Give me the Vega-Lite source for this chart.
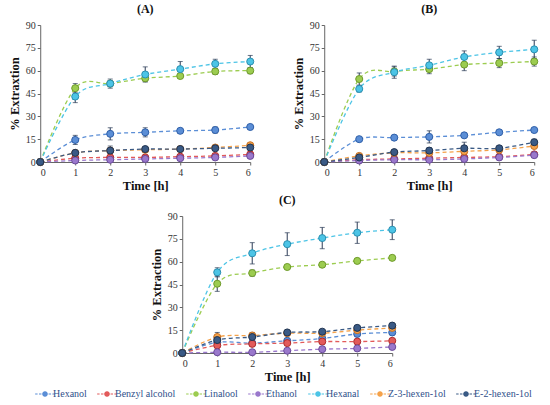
{
  "$schema": "https://vega.github.io/schema/vega-lite/v6.json",
  "padding": {"left": 8, "top": 3, "right": 5, "bottom": 2},
  "data": {
    "values": [
      {"p":"A","c":"Hexanol","t":0,"v":0,"e":0},{"p":"A","c":"Hexanol","t":1,"v":14.5,"e":3},{"p":"A","c":"Hexanol","t":2,"v":18.5,"e":4},{"p":"A","c":"Hexanol","t":3,"v":19.5,"e":3},{"p":"A","c":"Hexanol","t":4,"v":20.5,"e":1.5},{"p":"A","c":"Hexanol","t":5,"v":21,"e":2},{"p":"A","c":"Hexanol","t":6,"v":23,"e":1},
      {"p":"A","c":"Benzyl alcohol","t":0,"v":0,"e":0},{"p":"A","c":"Benzyl alcohol","t":1,"v":2.5,"e":0},{"p":"A","c":"Benzyl alcohol","t":2,"v":3,"e":0},{"p":"A","c":"Benzyl alcohol","t":3,"v":3,"e":0},{"p":"A","c":"Benzyl alcohol","t":4,"v":3.5,"e":0},{"p":"A","c":"Benzyl alcohol","t":5,"v":4,"e":0},{"p":"A","c":"Benzyl alcohol","t":6,"v":5,"e":0},
      {"p":"A","c":"Linalool","t":0,"v":0,"e":0},{"p":"A","c":"Linalool","t":1,"v":48.5,"e":3},{"p":"A","c":"Linalool","t":2,"v":51.5,"e":2},{"p":"A","c":"Linalool","t":3,"v":55,"e":2},{"p":"A","c":"Linalool","t":4,"v":56.5,"e":1.5},{"p":"A","c":"Linalool","t":5,"v":59.5,"e":2},{"p":"A","c":"Linalool","t":6,"v":60,"e":2},
      {"p":"A","c":"Ethanol","t":0,"v":0,"e":0},{"p":"A","c":"Ethanol","t":1,"v":1,"e":0},{"p":"A","c":"Ethanol","t":2,"v":1.5,"e":0},{"p":"A","c":"Ethanol","t":3,"v":2,"e":0},{"p":"A","c":"Ethanol","t":4,"v":2.5,"e":0},{"p":"A","c":"Ethanol","t":5,"v":3,"e":0},{"p":"A","c":"Ethanol","t":6,"v":4,"e":0},
      {"p":"A","c":"Hexanal","t":0,"v":0,"e":0},{"p":"A","c":"Hexanal","t":1,"v":43,"e":4},{"p":"A","c":"Hexanal","t":2,"v":51.5,"e":3},{"p":"A","c":"Hexanal","t":3,"v":57.5,"e":5},{"p":"A","c":"Hexanal","t":4,"v":61,"e":5},{"p":"A","c":"Hexanal","t":5,"v":64.5,"e":3},{"p":"A","c":"Hexanal","t":6,"v":66,"e":4},
      {"p":"A","c":"Z-3-hexen-1ol","t":0,"v":0,"e":0},{"p":"A","c":"Z-3-hexen-1ol","t":1,"v":6,"e":0},{"p":"A","c":"Z-3-hexen-1ol","t":2,"v":7.5,"e":0},{"p":"A","c":"Z-3-hexen-1ol","t":3,"v":8,"e":0},{"p":"A","c":"Z-3-hexen-1ol","t":4,"v":8.5,"e":0},{"p":"A","c":"Z-3-hexen-1ol","t":5,"v":9.5,"e":0},{"p":"A","c":"Z-3-hexen-1ol","t":6,"v":11,"e":0},
      {"p":"A","c":"E-2-hexen-1ol","t":0,"v":0,"e":0},{"p":"A","c":"E-2-hexen-1ol","t":1,"v":6,"e":1},{"p":"A","c":"E-2-hexen-1ol","t":2,"v":7.5,"e":3},{"p":"A","c":"E-2-hexen-1ol","t":3,"v":8.5,"e":1},{"p":"A","c":"E-2-hexen-1ol","t":4,"v":8.5,"e":1},{"p":"A","c":"E-2-hexen-1ol","t":5,"v":9,"e":1},{"p":"A","c":"E-2-hexen-1ol","t":6,"v":9.5,"e":1},

      {"p":"B","c":"Hexanol","t":0,"v":0,"e":0},{"p":"B","c":"Hexanol","t":1,"v":15,"e":1},{"p":"B","c":"Hexanol","t":2,"v":16,"e":1},{"p":"B","c":"Hexanol","t":3,"v":16.5,"e":4},{"p":"B","c":"Hexanol","t":4,"v":17.5,"e":1},{"p":"B","c":"Hexanol","t":5,"v":19.5,"e":1},{"p":"B","c":"Hexanol","t":6,"v":21,"e":1},
      {"p":"B","c":"Benzyl alcohol","t":0,"v":0,"e":0},{"p":"B","c":"Benzyl alcohol","t":1,"v":1.5,"e":0},{"p":"B","c":"Benzyl alcohol","t":2,"v":2,"e":0},{"p":"B","c":"Benzyl alcohol","t":3,"v":2.5,"e":0},{"p":"B","c":"Benzyl alcohol","t":4,"v":3,"e":0},{"p":"B","c":"Benzyl alcohol","t":5,"v":3.5,"e":0},{"p":"B","c":"Benzyl alcohol","t":6,"v":5,"e":0},
      {"p":"B","c":"Linalool","t":0,"v":0,"e":0},{"p":"B","c":"Linalool","t":1,"v":54.5,"e":4},{"p":"B","c":"Linalool","t":2,"v":59.5,"e":3},{"p":"B","c":"Linalool","t":3,"v":61,"e":3},{"p":"B","c":"Linalool","t":4,"v":64,"e":4},{"p":"B","c":"Linalool","t":5,"v":65,"e":3},{"p":"B","c":"Linalool","t":6,"v":66,"e":3},
      {"p":"B","c":"Ethanol","t":0,"v":0,"e":0},{"p":"B","c":"Ethanol","t":1,"v":1,"e":0},{"p":"B","c":"Ethanol","t":2,"v":1.5,"e":0},{"p":"B","c":"Ethanol","t":3,"v":1.5,"e":0},{"p":"B","c":"Ethanol","t":4,"v":2,"e":0},{"p":"B","c":"Ethanol","t":5,"v":3,"e":0},{"p":"B","c":"Ethanol","t":6,"v":4.5,"e":0},
      {"p":"B","c":"Hexanal","t":0,"v":0,"e":0},{"p":"B","c":"Hexanal","t":1,"v":48,"e":2},{"p":"B","c":"Hexanal","t":2,"v":59,"e":4},{"p":"B","c":"Hexanal","t":3,"v":63.5,"e":4},{"p":"B","c":"Hexanal","t":4,"v":69,"e":4},{"p":"B","c":"Hexanal","t":5,"v":72,"e":4},{"p":"B","c":"Hexanal","t":6,"v":74,"e":6},
      {"p":"B","c":"Z-3-hexen-1ol","t":0,"v":0,"e":0},{"p":"B","c":"Z-3-hexen-1ol","t":1,"v":4,"e":0},{"p":"B","c":"Z-3-hexen-1ol","t":2,"v":6,"e":0},{"p":"B","c":"Z-3-hexen-1ol","t":3,"v":6,"e":0},{"p":"B","c":"Z-3-hexen-1ol","t":4,"v":7,"e":0},{"p":"B","c":"Z-3-hexen-1ol","t":5,"v":8,"e":0},{"p":"B","c":"Z-3-hexen-1ol","t":6,"v":10.5,"e":0},
      {"p":"B","c":"E-2-hexen-1ol","t":0,"v":0,"e":0},{"p":"B","c":"E-2-hexen-1ol","t":1,"v":3,"e":1},{"p":"B","c":"E-2-hexen-1ol","t":2,"v":6.5,"e":1},{"p":"B","c":"E-2-hexen-1ol","t":3,"v":7.5,"e":2},{"p":"B","c":"E-2-hexen-1ol","t":4,"v":9,"e":4},{"p":"B","c":"E-2-hexen-1ol","t":5,"v":9,"e":1},{"p":"B","c":"E-2-hexen-1ol","t":6,"v":13,"e":2},

      {"p":"C","c":"Hexanol","t":0,"v":0,"e":0},{"p":"C","c":"Hexanol","t":1,"v":7,"e":0},{"p":"C","c":"Hexanol","t":2,"v":6.5,"e":0},{"p":"C","c":"Hexanol","t":3,"v":8,"e":0},{"p":"C","c":"Hexanol","t":4,"v":9.5,"e":0},{"p":"C","c":"Hexanol","t":5,"v":12.5,"e":0},{"p":"C","c":"Hexanol","t":6,"v":13.5,"e":0},
      {"p":"C","c":"Benzyl alcohol","t":0,"v":0,"e":0},{"p":"C","c":"Benzyl alcohol","t":1,"v":5,"e":0},{"p":"C","c":"Benzyl alcohol","t":2,"v":6,"e":0},{"p":"C","c":"Benzyl alcohol","t":3,"v":6.5,"e":0},{"p":"C","c":"Benzyl alcohol","t":4,"v":7.5,"e":0},{"p":"C","c":"Benzyl alcohol","t":5,"v":7.5,"e":0},{"p":"C","c":"Benzyl alcohol","t":6,"v":8,"e":0},
      {"p":"C","c":"Linalool","t":0,"v":0,"e":0},{"p":"C","c":"Linalool","t":1,"v":45.5,"e":5},{"p":"C","c":"Linalool","t":2,"v":52.5,"e":2},{"p":"C","c":"Linalool","t":3,"v":56.5,"e":1},{"p":"C","c":"Linalool","t":4,"v":58,"e":1},{"p":"C","c":"Linalool","t":5,"v":60.5,"e":1},{"p":"C","c":"Linalool","t":6,"v":62.5,"e":1},
      {"p":"C","c":"Ethanol","t":0,"v":0,"e":0},{"p":"C","c":"Ethanol","t":1,"v":0.5,"e":0},{"p":"C","c":"Ethanol","t":2,"v":0.5,"e":0},{"p":"C","c":"Ethanol","t":3,"v":1.5,"e":0},{"p":"C","c":"Ethanol","t":4,"v":2.5,"e":0},{"p":"C","c":"Ethanol","t":5,"v":3,"e":0},{"p":"C","c":"Ethanol","t":6,"v":4,"e":0},
      {"p":"C","c":"Hexanal","t":0,"v":0,"e":0},{"p":"C","c":"Hexanal","t":1,"v":53,"e":3},{"p":"C","c":"Hexanal","t":2,"v":65.5,"e":7},{"p":"C","c":"Hexanal","t":3,"v":71.5,"e":7.5},{"p":"C","c":"Hexanal","t":4,"v":75.5,"e":7},{"p":"C","c":"Hexanal","t":5,"v":79,"e":7},{"p":"C","c":"Hexanal","t":6,"v":81,"e":6.5},
      {"p":"C","c":"Z-3-hexen-1ol","t":0,"v":0,"e":0},{"p":"C","c":"Z-3-hexen-1ol","t":1,"v":10.5,"e":0},{"p":"C","c":"Z-3-hexen-1ol","t":2,"v":11.5,"e":0},{"p":"C","c":"Z-3-hexen-1ol","t":3,"v":13,"e":0},{"p":"C","c":"Z-3-hexen-1ol","t":4,"v":13,"e":0},{"p":"C","c":"Z-3-hexen-1ol","t":5,"v":15,"e":0},{"p":"C","c":"Z-3-hexen-1ol","t":6,"v":16.5,"e":0},
      {"p":"C","c":"E-2-hexen-1ol","t":0,"v":0,"e":0},{"p":"C","c":"E-2-hexen-1ol","t":1,"v":8.5,"e":5},{"p":"C","c":"E-2-hexen-1ol","t":2,"v":10.5,"e":3},{"p":"C","c":"E-2-hexen-1ol","t":3,"v":13.5,"e":1},{"p":"C","c":"E-2-hexen-1ol","t":4,"v":14,"e":1},{"p":"C","c":"E-2-hexen-1ol","t":5,"v":16.5,"e":1},{"p":"C","c":"E-2-hexen-1ol","t":6,"v":18,"e":1}
    ]
  },
  "vconcat": [
    {
      "hconcat": [
        {
          "title": "(A)",
          "width": 210,
          "height": 137,
          "transform": [{"filter": "datum.p == 'A'"}],
          "encoding": {
            "x": {"field": "t", "type": "quantitative", "title": "Time [h]", "scale": {"domain": [0, 6]}, "axis": {"values": [0, 1, 2, 3, 4, 5, 6]}},
            "y": {"field": "v", "type": "quantitative", "title": "% Extraxtion", "scale": {"domain": [0, 90], "nice": false}, "axis": {"values": [0, 15, 30, 45, 60, 75, 90]}}
          },
          "layer": [
            {"mark": {"type": "line", "interpolate": "cardinal", "strokeDash": [4, 3], "strokeWidth": 1.3}, "encoding": {"color": {"field": "c", "type": "nominal", "sort": ["Hexanol", "Benzyl alcohol", "Linalool", "Ethanol", "Hexanal", "Z-3-hexen-1ol", "E-2-hexen-1ol"]}}},
            {"transform": [{"filter": "datum.e > 0"}], "mark": {"type": "errorbar", "ticks": {"size": 5}, "color": "#2a3a55", "thickness": 1}, "encoding": {"yError": {"field": "e"}}},
            {"mark": {"type": "point", "filled": true, "size": 50, "opacity": 1, "strokeWidth": 1}, "encoding": {"color": {"field": "c", "type": "nominal", "sort": ["Hexanol", "Benzyl alcohol", "Linalool", "Ethanol", "Hexanal", "Z-3-hexen-1ol", "E-2-hexen-1ol"]}, "stroke": {"field": "c", "type": "nominal", "legend": null, "sort": ["Hexanol", "Benzyl alcohol", "Linalool", "Ethanol", "Hexanal", "Z-3-hexen-1ol", "E-2-hexen-1ol"], "scale": {"range": ["#2f5fa8", "#b02a2a", "#6e9a2a", "#6a4a9a", "#2a8fb0", "#c87020", "#1f3350"]}}}}
          ]
        },
        {
          "title": "(B)",
          "width": 210,
          "height": 137,
          "transform": [{"filter": "datum.p == 'B'"}],
          "encoding": {
            "x": {"field": "t", "type": "quantitative", "title": "Time [h]", "scale": {"domain": [0, 6]}, "axis": {"values": [0, 1, 2, 3, 4, 5, 6]}},
            "y": {"field": "v", "type": "quantitative", "title": "% Extraction", "scale": {"domain": [0, 90], "nice": false}, "axis": {"values": [0, 15, 30, 45, 60, 75, 90]}}
          },
          "layer": [
            {"mark": {"type": "line", "interpolate": "cardinal", "strokeDash": [4, 3], "strokeWidth": 1.3}, "encoding": {"color": {"field": "c", "type": "nominal", "sort": ["Hexanol", "Benzyl alcohol", "Linalool", "Ethanol", "Hexanal", "Z-3-hexen-1ol", "E-2-hexen-1ol"]}}},
            {"transform": [{"filter": "datum.e > 0"}], "mark": {"type": "errorbar", "ticks": {"size": 5}, "color": "#2a3a55", "thickness": 1}, "encoding": {"yError": {"field": "e"}}},
            {"mark": {"type": "point", "filled": true, "size": 50, "opacity": 1, "strokeWidth": 1}, "encoding": {"color": {"field": "c", "type": "nominal", "sort": ["Hexanol", "Benzyl alcohol", "Linalool", "Ethanol", "Hexanal", "Z-3-hexen-1ol", "E-2-hexen-1ol"]}, "stroke": {"field": "c", "type": "nominal", "legend": null, "sort": ["Hexanol", "Benzyl alcohol", "Linalool", "Ethanol", "Hexanal", "Z-3-hexen-1ol", "E-2-hexen-1ol"]}}}
          ]
        }
      ],
      "spacing": 36
    },
    {
      "title": "(C)",
      "width": 210,
      "height": 137,
      "transform": [{"filter": "datum.p == 'C'"}],
      "encoding": {
        "x": {"field": "t", "type": "quantitative", "title": "Time [h]", "scale": {"domain": [0, 6]}, "axis": {"values": [0, 1, 2, 3, 4, 5, 6]}},
        "y": {"field": "v", "type": "quantitative", "title": "% Extraction", "scale": {"domain": [0, 90], "nice": false}, "axis": {"values": [0, 15, 30, 45, 60, 75, 90]}}
      },
      "layer": [
        {"mark": {"type": "line", "interpolate": "cardinal", "strokeDash": [4, 3], "strokeWidth": 1.3}, "encoding": {"color": {"field": "c", "type": "nominal", "sort": ["Hexanol", "Benzyl alcohol", "Linalool", "Ethanol", "Hexanal", "Z-3-hexen-1ol", "E-2-hexen-1ol"]}}},
        {"transform": [{"filter": "datum.e > 0"}], "mark": {"type": "errorbar", "ticks": {"size": 5}, "color": "#2a3a55", "thickness": 1}, "encoding": {"yError": {"field": "e"}}},
        {"mark": {"type": "point", "filled": true, "size": 50, "opacity": 1, "strokeWidth": 1}, "encoding": {"color": {"field": "c", "type": "nominal", "sort": ["Hexanol", "Benzyl alcohol", "Linalool", "Ethanol", "Hexanal", "Z-3-hexen-1ol", "E-2-hexen-1ol"]}, "stroke": {"field": "c", "type": "nominal", "legend": null, "sort": ["Hexanol", "Benzyl alcohol", "Linalool", "Ethanol", "Hexanal", "Z-3-hexen-1ol", "E-2-hexen-1ol"]}}}
      ]
    }
  ],
  "spacing": 2,
  "center": true,
  "resolve": {"scale": {"color": "shared", "stroke": "shared"}},
  "config": {
    "font": "Liberation Serif",
    "view": {"stroke": null},
    "range": {"category": ["#5b8ed6", "#e25a5a", "#9ccc50", "#9a78cc", "#4cc4e6", "#f5a24a", "#3a5a85"]},
    "axis": {"grid": false, "domainColor": "#666", "tickColor": "#666", "labelColor": "#333", "labelFontSize": 10, "titleFontSize": 12.5, "titleFontWeight": "bold", "titleColor": "#111", "tickSize": 3, "labelPadding": 2},
    "axisX": {"titlePadding": 2},
    "axisY": {"titlePadding": 4},
    "title": {"fontSize": 12, "fontWeight": "bold", "offset": 4, "color": "#111"},
    "legend": {
      "orient": "bottom",
      "direction": "horizontal",
      "title": null,
      "labelFontSize": 10,
      "labelColor": "#2f4f8a",
      "symbolType": "M-3.6,0H-2.7M-2.2,0H-1.3M1.3,0H2.2M2.7,0H3.6M-0.8,0A0.8,0.8 0 1,0 0.8,0A0.8,0.8 0 1,0 -0.8,0Z",
      "symbolSize": 30,
      "symbolStrokeWidth": 1.2,
      "labelOffset": 3,
      "columnPadding": 7,
      "offset": 6
    }
  }
}
